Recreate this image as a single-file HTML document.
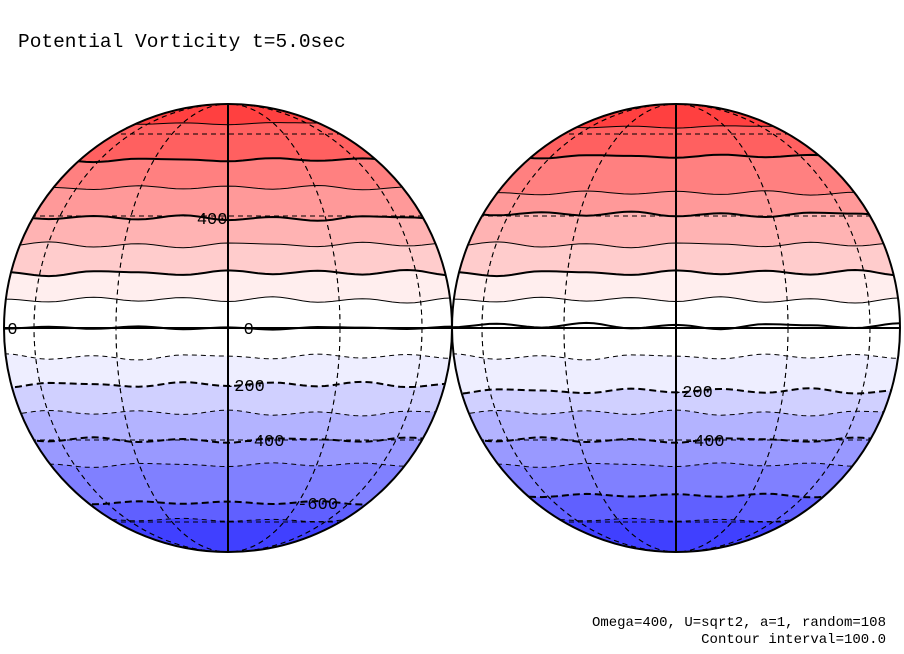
<!DOCTYPE html>
<html><head><meta charset="utf-8"><style>
html,body{margin:0;padding:0;background:#fff;}
svg{display:block;font-family:"Liberation Mono",monospace;}
</style></head><body>
<svg id="chart" width="904" height="654" viewBox="0 0 904 654">
<text x="18" y="47" font-size="19.5" fill="#000">Potential Vorticity t=5.0sec</text>
<g id="globes"></g>
<text x="886" y="626" font-size="14" text-anchor="end">Omega=400, U=sqrt2, a=1, random=108</text>
<text x="886" y="643" font-size="14" text-anchor="end">Contour interval=100.0</text>
</svg>
<script>
// contour levels (PV) and their latitudes (degrees) for each hemisphere view
const levels = [700, 600, 500, 400, 300, 200, 100, 0, -100, -200, -300, -400, -500, -600, -700];
const latsLeft  = [66, 48.6, 38.7, 29.4, 21.8, 14.2, 7.2, 0, -7.4, -14.7, -22.3, -30, -37.7, -51.4, -59];
const latsRight = [64, 50, 37, 30.5, 21.8, 14.2, 7.2, 0.5, -7.4, -16.4, -22.3, -30, -37.7, -48.5, -59];
// band colors, top (>700) to bottom (<-700)
const bandColors = ["#ff4040","#ff6060","#ff8080","#ff9999","#ffb3b3","#ffcccc","#ffeeee","#ffffff","#ffffff","#eeeeff","#d0d0ff","#b3b3ff","#9999ff","#8080ff","#6060ff","#4040ff"];
// small wiggles (degrees) along each contour
const wiggle = [0.6,-0.4,0.8,-0.6,0.3,-0.8,0.5,0.2,-0.5,0.7,-0.3];
const labelsLeft = [{lv:400,lon:-8},{lv:0,lon:-80},{lv:0,lon:4},{lv:-200,lon:-1},{lv:-400,lon:4},{lv:-600,lon:18}];
const labelsRight = [{lv:-200,lon:-1},{lv:-400,lon:2}];

const R = 224, CY = 328;
const NS = "http://www.w3.org/2000/svg";
function mk(tag, attrs, parent){ const e=document.createElementNS(NS,tag); for(const k in attrs) e.setAttribute(k,attrs[k]); parent.appendChild(e); return e; }
function yOf(lat){ return CY - R*Math.sin(lat*Math.PI/180); }
function xOf(cx, lon){ return cx + R*Math.sin(lon*Math.PI/180); }

function contourPts(cx, lat, idx){
  const pts=[]; const n=wiggle.length;
  for(let i=0;i<=60;i++){
    const t = i/60*(n-1);
    const k = Math.floor(t), f=t-k;
    const a = wiggle[(k+idx*3)%n], b = wiggle[(k+1+idx*3)%n];
    const s = (1-Math.cos(f*Math.PI))/2;
    const w = (a*(1-s)+b*s)*(lat===0?0.5:1);
    const x = cx - R + (2*R)*i/60;
    pts.push([x, yOf(lat + w)]);
  }
  return pts;
}

function drawGlobe(cx, lats, labels, name){
  const g = mk("g",{},document.getElementById("globes"));
  
  
  const clipId = "clip-"+name;
  const cp = mk("clipPath",{id:clipId},g);
  mk("circle",{cx:cx,cy:CY,r:R},cp);
  const inner = mk("g",{"clip-path":"url(#"+clipId+")"},g);
  const bg = mk("rect",{x:cx-R,y:CY-R,width:2*R,height:2*R,fill:bandColors[0]},inner);
  
  
  const curves = lats.map((lat,i)=>contourPts(cx,lat,i));
  curves.forEach((pts,i)=>{
    const d = "M"+pts.map(p=>p[0].toFixed(1)+","+p[1].toFixed(1)).join("L")+"L"+(cx+R)+","+(CY+R)+"L"+(cx-R)+","+(CY+R)+"Z";
    const b = mk("path",{d:d,fill:bandColors[i+1]},inner);
    
    
  });
  [-60,-30,30,60].forEach(lon=>{
    const rx = Math.abs(R*Math.sin(lon*Math.PI/180));
    const e = mk("ellipse",{cx:cx,cy:CY,rx:rx,ry:R,fill:"none",stroke:"#000","stroke-width":1,"stroke-dasharray":"5,4"},inner);
    
    
  });
  [-60,-30,30,60].forEach(lat=>{
    const y = yOf(lat);
    const l = mk("line",{x1:cx-R,x2:cx+R,y1:y,y2:y,stroke:"#000","stroke-width":1,"stroke-dasharray":"5,4"},inner);
    
    
  });
  curves.forEach((pts,i)=>{
    const lv = levels[i];
    const d = "M"+pts.map(p=>p[0].toFixed(1)+","+p[1].toFixed(1)).join("L");
    const attrs = {d:d,fill:"none",stroke:"#000","stroke-width":(lv%200===0)?2:1};
    if(lv<0) attrs["stroke-dasharray"] = (lv%200===0)?"7,4":"5,4";
    const c = mk("path",attrs,inner);
    
    
  });
  const cm = mk("line",{x1:cx,x2:cx,y1:CY-R,y2:CY+R,stroke:"#000","stroke-width":2},g);
  
  
  const eq = mk("line",{x1:cx-R,x2:cx+R,y1:CY,y2:CY,stroke:"#000","stroke-width":2},g);
  
  
  const rim = mk("circle",{cx:cx,cy:CY,r:R,fill:"none",stroke:"#000","stroke-width":2},g);
  
  
  labels.forEach(lb=>{
    const i = levels.indexOf(lb.lv);
    const x = xOf(cx, lb.lon), y = yOf(lats[i]);
    const t = mk("text",{x:x,y:y+6,"font-size":17,fill:"#000"},g);
    t.textContent = String(lb.lv);
    
    
  });
}
drawGlobe(228, latsLeft, labelsLeft, "left-globe");
drawGlobe(676, latsRight, labelsRight, "right-globe");
</script>
</body></html>
